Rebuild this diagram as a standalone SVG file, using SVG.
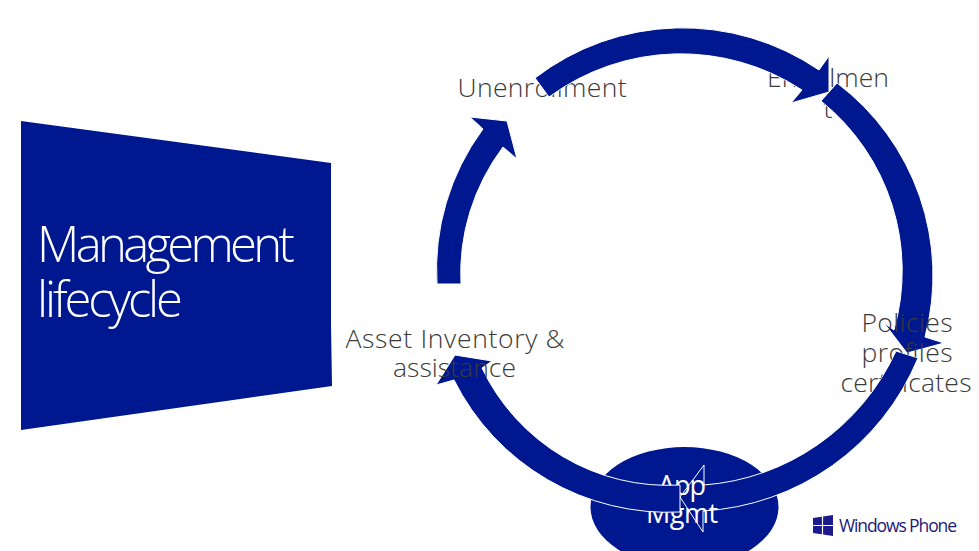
<svg xmlns="http://www.w3.org/2000/svg" width="979" height="551" viewBox="0 0 979 551">
<style>
.blue{fill:#00188f}
.arc{fill:#00188f;stroke:#fff;stroke-width:1}
text{font-family:"Open Sans","Liberation Sans",sans-serif;font-weight:300;text-anchor:middle}
.lbl{font-size:26.500px;fill:#3a3a3a}
.wht{font-size:27px;fill:#fff;font-weight:400}
.ttl{font-size:49px;fill:#fff;text-anchor:start}
.wp{font-size:17.500px;fill:#1c1a78;font-weight:400;text-anchor:start}
</style>
<defs>
<clipPath id="notArc3"><path clip-rule="evenodd" d="M0 0H979V551H0Z M918,358 A248 248 0 0 1 703,511 L703,532 L680,497 L704,465 L704,485 A230 230 0 0 0 896,351 Z"/></clipPath>
<clipPath id="notArc4"><path clip-rule="evenodd" d="M0 0H979V551H0Z M680,485 A206 206 0 0 1 482,368 L492,361 L455,355 L436,385 L454,380 A239.500 239.500 0 0 0 680,512 Z"/></clipPath>
</defs>
<rect width="979" height="551" fill="#fff"/>
<g id="node-title">
<polygon class="blue" points="21,121 331,163 331,325 332,386 21,430"/>
<text class="ttl" x="37" y="262" textLength="258" lengthAdjust="spacing">Management</text>
<text class="ttl" x="37" y="317" textLength="146" lengthAdjust="spacing">lifecycle</text>
</g>
<g id="node-unenrollment"><text class="lbl" x="542" y="97" textLength="169" lengthAdjust="spacing">Unenrollment</text></g>
<g id="node-enrollment"><text class="lbl" x="828" y="87" textLength="122" lengthAdjust="spacing">Enrollmen</text><text class="lbl" x="828" y="118">t</text></g>
<g id="node-app-shape"><ellipse class="blue" cx="684.500" cy="507" rx="94" ry="60"/></g>
<g id="connectors">
<path class="arc" d="M535,78 A242 242 0 0 1 819,70 L829,56 L829,92 L791,103 L802,90 A222 222 0 0 0 549,97 Z"/>
<path class="arc" d="M837,83 A241 241 0 0 1 925,337 L944,343 L907,353 L884,323 L894,330 A218 218 0 0 0 821,101 Z"/>
<path class="arc" d="M918,358 A248 248 0 0 1 703,511 L703,532 L680,497 L704,465 L704,485 A230 230 0 0 0 896,351 Z"/>
<path class="arc" d="M680,485 A206 206 0 0 1 482,368 L492,361 L455,355 L436,385 L454,380 A239.500 239.500 0 0 0 680,512 Z"/>
<path class="arc" d="M437,284 A248 241 0 0 1 483,129 L470,117 L507,121 L517,159 L503,147 A222 215 0 0 0 461,284 Z"/>
</g>
<g id="node-policies" clip-path="url(#notArc3)">
<text class="lbl" x="907" y="332" textLength="91" lengthAdjust="spacing">Policies</text>
<text class="lbl" x="907" y="362" textLength="91" lengthAdjust="spacing">profiles</text>
<text class="lbl" x="906" y="392" textLength="131" lengthAdjust="spacing">certificates</text>
</g>
<g id="node-app-label" clip-path="url(#notArc4)">
<text class="wht" x="682" y="495" textLength="48" lengthAdjust="spacing">App</text>
<text class="wht" x="682" y="523" textLength="72" lengthAdjust="spacing">Mgmt</text>
</g>
<g id="node-asset">
<text class="lbl" x="455" y="348" textLength="219" lengthAdjust="spacing">Asset Inventory &amp;</text>
<text class="lbl" x="454.500" y="377" textLength="123" lengthAdjust="spacing">assistance</text>
</g>
<g id="node-windows-phone">
<polygon fill="#1c1a8c" points="813,518 833,515 833,536 813,533"/>
<path d="M813,525.500H833M822.500,515V536" stroke="#fff" stroke-width="1.200" fill="none"/>
<text class="wp" x="839" y="532" textLength="118" lengthAdjust="spacing">Windows Phone</text>
</g>
</svg>
